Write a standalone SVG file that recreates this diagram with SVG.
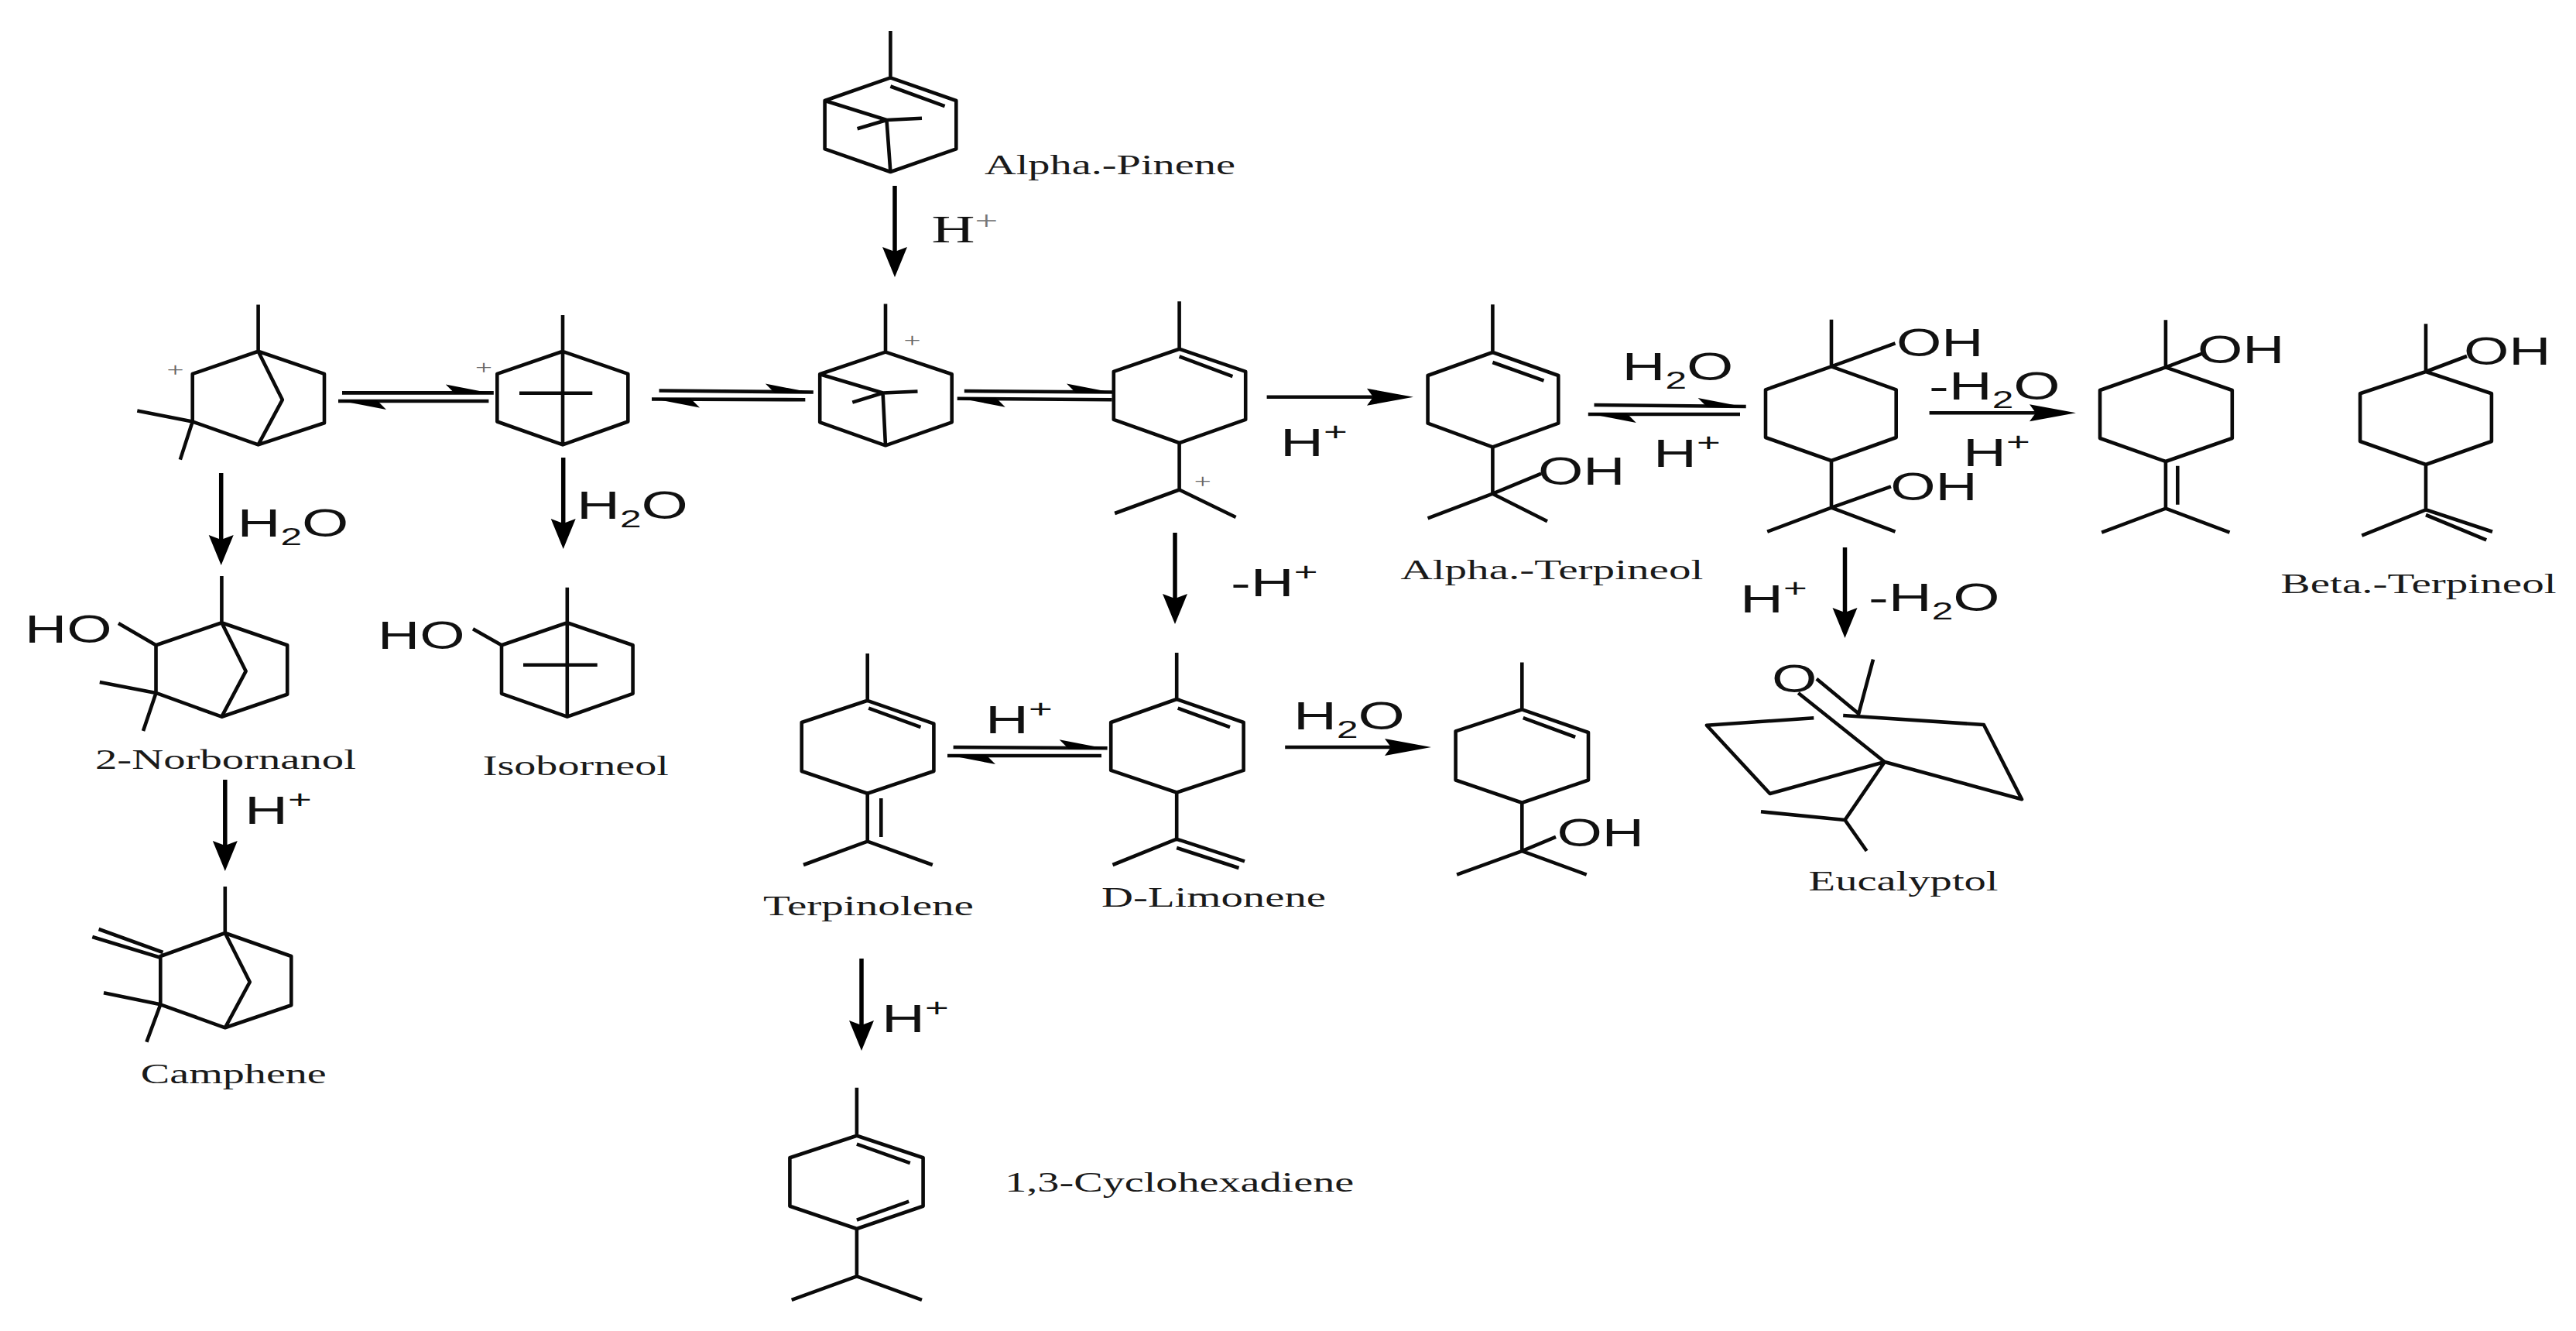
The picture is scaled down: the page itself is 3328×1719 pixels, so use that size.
<svg xmlns="http://www.w3.org/2000/svg" width="3328" height="1719" viewBox="0 0 3328 1719">
<style>
.b{fill:none;stroke:#0a0a0a;stroke-width:4.6;stroke-linejoin:round;stroke-linecap:butt}
.v{fill:none;stroke:#000;stroke-width:5.5}
.h{fill:none;stroke:#0a0a0a;stroke-width:4.6}
.s{font-family:"Liberation Sans",Arial,sans-serif;font-size:50px;fill:#111}
.r{font-family:"Liberation Serif","Times New Roman",serif;font-size:50px;fill:#111}
.n{font-family:"Liberation Serif","Times New Roman",serif;font-size:35px;fill:#1a1a1a}
.c{font-family:"Liberation Serif","Times New Roman",serif;font-size:26px;fill:#666}
.sub{font-size:32px}
.sup{font-size:34px}
.thin{font-size:34px;fill:#777}
</style>
<defs>
<marker id="dn" markerUnits="userSpaceOnUse" markerWidth="40" markerHeight="44" refX="16" refY="20" overflow="visible"><path d="M0 0L16 6L32 0L16 39Z" fill="#000"/></marker>
<marker id="rt" markerUnits="userSpaceOnUse" markerWidth="64" markerHeight="24" refX="30" refY="11" overflow="visible"><path d="M0 0L8 11L0 22L60 11Z" fill="#000"/></marker>
<marker id="hr" markerUnits="userSpaceOnUse" markerWidth="1" markerHeight="1" refX="0" refY="0" overflow="visible"><path d="M0 1L-62 -11L-50 1Z" fill="#000"/></marker>
<marker id="hl" markerUnits="userSpaceOnUse" markerWidth="1" markerHeight="1" refX="0" refY="0" overflow="visible"><path d="M0 -1L62 11L50 -1Z" fill="#000"/></marker>
</defs>

<g id="connectors">
<path class="v" d="M1156 240V339" marker-end="url(#dn)"/>
<path class="v" d="M285.7 611V711" marker-end="url(#dn)"/>
<path class="v" d="M727.7 591V690" marker-end="url(#dn)"/>
<path class="v" d="M290.8 1007V1106" marker-end="url(#dn)"/>
<path class="v" d="M1518 688V787" marker-end="url(#dn)"/>
<path class="v" d="M2383.5 707V805" marker-end="url(#dn)"/>
<path class="v" d="M1113 1238V1338" marker-end="url(#dn)"/>
<path class="h" d="M1636.6 512.8H1796" marker-end="url(#rt)"/>
<path class="h" d="M2492.6 533.3H2652" marker-end="url(#rt)"/>
<path class="h" d="M1660.2 965H1819" marker-end="url(#rt)"/>
<path class="h" d="M442 507.4H637.8" marker-end="url(#hr)"/>
<path class="h" d="M437 518H631.4" marker-start="url(#hl)"/>
<path class="h" d="M851.5 504.5L1050.8 506.5" marker-end="url(#hr)"/>
<path class="h" d="M842 515.5L1040.3 516.2" marker-start="url(#hl)"/>
<path class="h" d="M1245.8 505L1440 506.5" marker-end="url(#hr)"/>
<path class="h" d="M1236.7 514.7L1436.6 516.2" marker-start="url(#hl)"/>
<path class="h" d="M2059.5 523L2255.7 525" marker-end="url(#hr)"/>
<path class="h" d="M2051.8 535H2248" marker-start="url(#hl)"/>
<path class="h" d="M1231.6 965L1430.6 966.2" marker-end="url(#hr)"/>
<path class="h" d="M1224 976H1423" marker-start="url(#hl)"/>

<text class="r" transform="translate(1203.5,312.6) scale(1.55,1)">H<tspan class="thin" dy="-17">+</tspan></text>
<text class="s" transform="translate(306.5,693.4) scale(1.55,1)">H<tspan class="sub" dy="11">2</tspan><tspan dy="-11">O</tspan></text>
<text class="s" transform="translate(745,670) scale(1.55,1)">H<tspan class="sub" dy="11">2</tspan><tspan dy="-11">O</tspan></text>
<text class="s" transform="translate(316,1063.7) scale(1.55,1)">H<tspan class="sup" dy="-20">+</tspan></text>
<text class="s" transform="translate(1654,588.5) scale(1.55,1)">H<tspan class="sup" dy="-20">+</tspan></text>
<text class="s" transform="translate(1590,770.3) scale(1.55,1)">-H<tspan class="sup" dy="-20">+</tspan></text>
<text class="s" transform="translate(2095.5,490.8) scale(1.55,1)">H<tspan class="sub" dy="11">2</tspan><tspan dy="-11">O</tspan></text>
<text class="s" transform="translate(2136,602.7) scale(1.55,1)">H<tspan class="sup" dy="-20">+</tspan></text>
<text class="s" transform="translate(2492,515.8) scale(1.55,1)">-H<tspan class="sub" dy="11">2</tspan><tspan dy="-11">O</tspan></text>
<text class="s" transform="translate(2536,601.7) scale(1.55,1)">H<tspan class="sup" dy="-20">+</tspan></text>
<text class="s" transform="translate(2248,791) scale(1.55,1)">H<tspan class="sup" dy="-20">+</tspan></text>
<text class="s" transform="translate(2414,789.2) scale(1.55,1)">-H<tspan class="sub" dy="11">2</tspan><tspan dy="-11">O</tspan></text>
<text class="s" transform="translate(1273,947) scale(1.55,1)">H<tspan class="sup" dy="-20">+</tspan></text>
<text class="s" transform="translate(1671,942) scale(1.55,1)">H<tspan class="sub" dy="11">2</tspan><tspan dy="-11">O</tspan></text>
<text class="s" transform="translate(1139,1333) scale(1.55,1)">H<tspan class="sup" dy="-20">+</tspan></text>
</g>

<g id="alpha-pinene">
<path class="b" d="M1150.4 40V100.3L1235.3 130V192.4L1150.4 222L1065.6 192.4V130L1150.4 100.3"/>
<path class="b" d="M1150.4 111.5L1220.6 137.2M1065.6 130L1145.5 155L1150.4 222M1191 152.7L1145.5 155L1107.6 166.3"/>
<text class="n" x="1272" y="225" textLength="324" lengthAdjust="spacingAndGlyphs">Alpha.-Pinene</text>
</g>

<g id="camphanyl-cation">
<path class="b" d="M333.6 393.6V453.8L419 482.9V546.2L333.6 574.4L248.7 544.5V482.9L333.6 453.8L364.8 516.3L333.6 574.4"/>
<path class="b" d="M177.3 530.6L248.7 544.5L232.8 593.6"/>
<text class="c" transform="translate(215.4,485.9) scale(1.5,1)">+</text>
</g>

<g id="bornyl-cation">
<path class="b" d="M727 407V574.4M727 453.8L811.3 482.9V544.5L727 574.4L642.3 544.5V482.9L727 453.8M671 507.8H765.3"/>
<text class="c" transform="translate(614,482.6) scale(1.5,1)">+</text>
</g>

<g id="pinyl-cation">
<path class="b" d="M1144 392.6V454.6L1229.7 483.2V545.3L1144 575.3L1059.2 545.3V483.2L1144 454.6"/>
<path class="b" d="M1059.2 483.2L1140.6 507.5L1144 575.3M1185.5 505.5L1140.6 507.5L1101.3 519.6"/>
<text class="c" transform="translate(1167.5,447.6) scale(1.5,1)">+</text>
</g>

<g id="terpinyl-cation">
<path class="b" d="M1523.6 389.2V450.8L1609.2 479.9V541.9L1523.6 572L1438.8 541.9V479.9L1523.6 450.8M1523.6 460.5L1592.4 486.2M1523.6 572V632.5M1440.2 663L1523.6 632.5L1596.6 668"/>
<text class="c" transform="translate(1542.8,630.4) scale(1.5,1)">+</text>
</g>

<g id="alpha-terpineol">
<path class="b" d="M1928.4 393.3V455L2013.3 485V546.7L1928.4 577.3L1844.6 546.7V485L1928.4 455M1928.4 468L1994.5 491.7M1928.4 577.3V637.7M1844.6 669.3L1928.4 637.7L1999 673.3M1928.4 637.7L1991.2 611.7"/>
<text class="s" transform="translate(1987,625.5) scale(1.5,1)">OH</text>
<text class="n" x="1809.4" y="748" textLength="391" lengthAdjust="spacingAndGlyphs">Alpha.-Terpineol</text>
</g>

<g id="terpin">
<path class="b" d="M2366 412.7V473.3L2449.7 503.3V565L2366 595L2281 565V503.3L2366 473.3L2448.5 443.3M2366 595V655.7M2283.2 686.7L2366 655.7L2448.5 686.7M2366 655.7L2443 628.3"/>
<text class="s" transform="translate(2450,459.5) scale(1.5,1)">OH</text>
<text class="s" transform="translate(2442.3,645.5) scale(1.5,1)">OH</text>
</g>

<g id="terpineol-gamma">
<path class="b" d="M2797.9 413.3V474.3L2883.8 504V566L2797.9 596L2713 566V504L2797.9 474.3L2845 456.7M2797.9 596V656.7M2813.3 601.7V651.7M2715.2 687.7L2797.9 656.7L2880.5 687.7"/>
<text class="s" transform="translate(2839,468.9) scale(1.5,1)">OH</text>
</g>

<g id="beta-terpineol">
<path class="b" d="M3134 418.3V480L3218.9 508.3V570L3134 600L3049.1 570V508.3L3134 480L3187 460M3134 600V658.3M3051.3 691.7L3134 658.3L3220 686.7M3134 665L3212.2 697.3"/>
<text class="s" transform="translate(3183,471) scale(1.5,1)">OH</text>
<text class="n" x="2946.6" y="765.5" textLength="356" lengthAdjust="spacingAndGlyphs">Beta.-Terpineol</text>
</g>

<g id="norbornanol">
<path class="b" d="M286.4 744V804.3L371.2 833.3V896.7L286.4 925.7L201.5 894.9V833.3L286.4 804.3L317.6 866.8L286.4 925.7M128.8 881L201.5 894.9L185 944M201.5 833.3L153 805"/>
<text class="s" transform="translate(32,829.5) scale(1.5,1)">HO</text>
<text class="n" x="123" y="992.5" textLength="337" lengthAdjust="spacingAndGlyphs">2-Norbornanol</text>
</g>

<g id="isoborneol">
<path class="b" d="M732.8 758.7V925.7M732.8 804.3L817.6 833.3V895.8L732.8 925.7L648 895.8V833.3L732.8 804.3M676 858.7H771.7M648 833.3L611 812.3"/>
<text class="s" transform="translate(488,838.3) scale(1.5,1)">HO</text>
<text class="n" x="623.8" y="1000.5" textLength="240" lengthAdjust="spacingAndGlyphs">Isoborneol</text>
</g>

<g id="camphene">
<path class="b" d="M290.8 1145V1205L376.3 1235V1298.3L290.8 1327.3L207.3 1297.3V1235L290.8 1205L322.7 1268.3L290.8 1327.3M134 1282.3L207.3 1297.3L189.4 1345.7M207.3 1236.7L119.3 1210M210.5 1230L127.6 1200"/>
<text class="n" x="181.8" y="1398.5" textLength="240" lengthAdjust="spacingAndGlyphs">Camphene</text>
</g>

<g id="terpinolene">
<path class="b" d="M1120.7 844V904.8L1206.4 934.7V996L1120.7 1024.7L1035.7 996V933L1120.7 904.8M1122.2 914.6L1189.5 939.2M1120.7 1024.7V1086.6M1138.3 1031V1081M1038 1117L1120.7 1086.6L1204.8 1117"/>
<text class="n" x="986" y="1182" textLength="272" lengthAdjust="spacingAndGlyphs">Terpinolene</text>
</g>

<g id="d-limonene">
<path class="b" d="M1520.2 843V903L1606.6 933V994.9L1520.2 1023.5L1435.2 994.9V933L1520.2 903M1521.7 914.6L1589 939.2M1520.2 1023.5V1086.6M1437.5 1117L1520.2 1083.7L1608 1112.4M1520.2 1095L1600.5 1121"/>
<text class="n" x="1423" y="1170.5" textLength="290" lengthAdjust="spacingAndGlyphs">D-Limonene</text>
</g>

<g id="terpineol-product">
<path class="b" d="M1966.3 855.5V916.3L2052 946V1007.5L1966.3 1036.7L1880.6 1007.5V944.4L1966.3 916.3M1967.8 927.2L2035.2 951.9M1966.3 1036.7V1099.2M1882.1 1129.6L1966.3 1099.2L2049.7 1129.6M1966.3 1099.2L2010 1080.9"/>
<text class="s" transform="translate(2011.5,1093.4) scale(1.5,1)">OH</text>
</g>

<g id="eucalyptol">
<path class="b" d="M2346.9 876.7L2401.3 921.7L2420 851.7M2323.2 895L2434.8 984M2343.3 927.3L2204.9 936.7L2286.6 1025L2434.8 984M2381.2 924L2562.9 936L2612 1032.3L2434.8 984L2383.5 1059M2275 1048.3L2383.5 1059L2411.6 1099"/>
<text class="s" transform="translate(2289,894) scale(1.5,1)">O</text>
<text class="n" x="2336.6" y="1149.5" textLength="245" lengthAdjust="spacingAndGlyphs">Eucalyptol</text>
</g>

<g id="cyclohexadiene">
<path class="b" d="M1106.9 1404.8V1466.7L1192.6 1495.3V1557.8L1106.9 1587L1020.4 1557.8V1495.3L1106.9 1466.7M1106.9 1477.6L1175.8 1502.2M1106.9 1575.6L1174.2 1551.6M1106.9 1587V1648.4M1022.7 1678.8L1106.9 1648.4L1191 1678.8"/>
<text class="n" x="1298.2" y="1539" textLength="451" lengthAdjust="spacingAndGlyphs">1,3-Cyclohexadiene</text>
</g>
</svg>
